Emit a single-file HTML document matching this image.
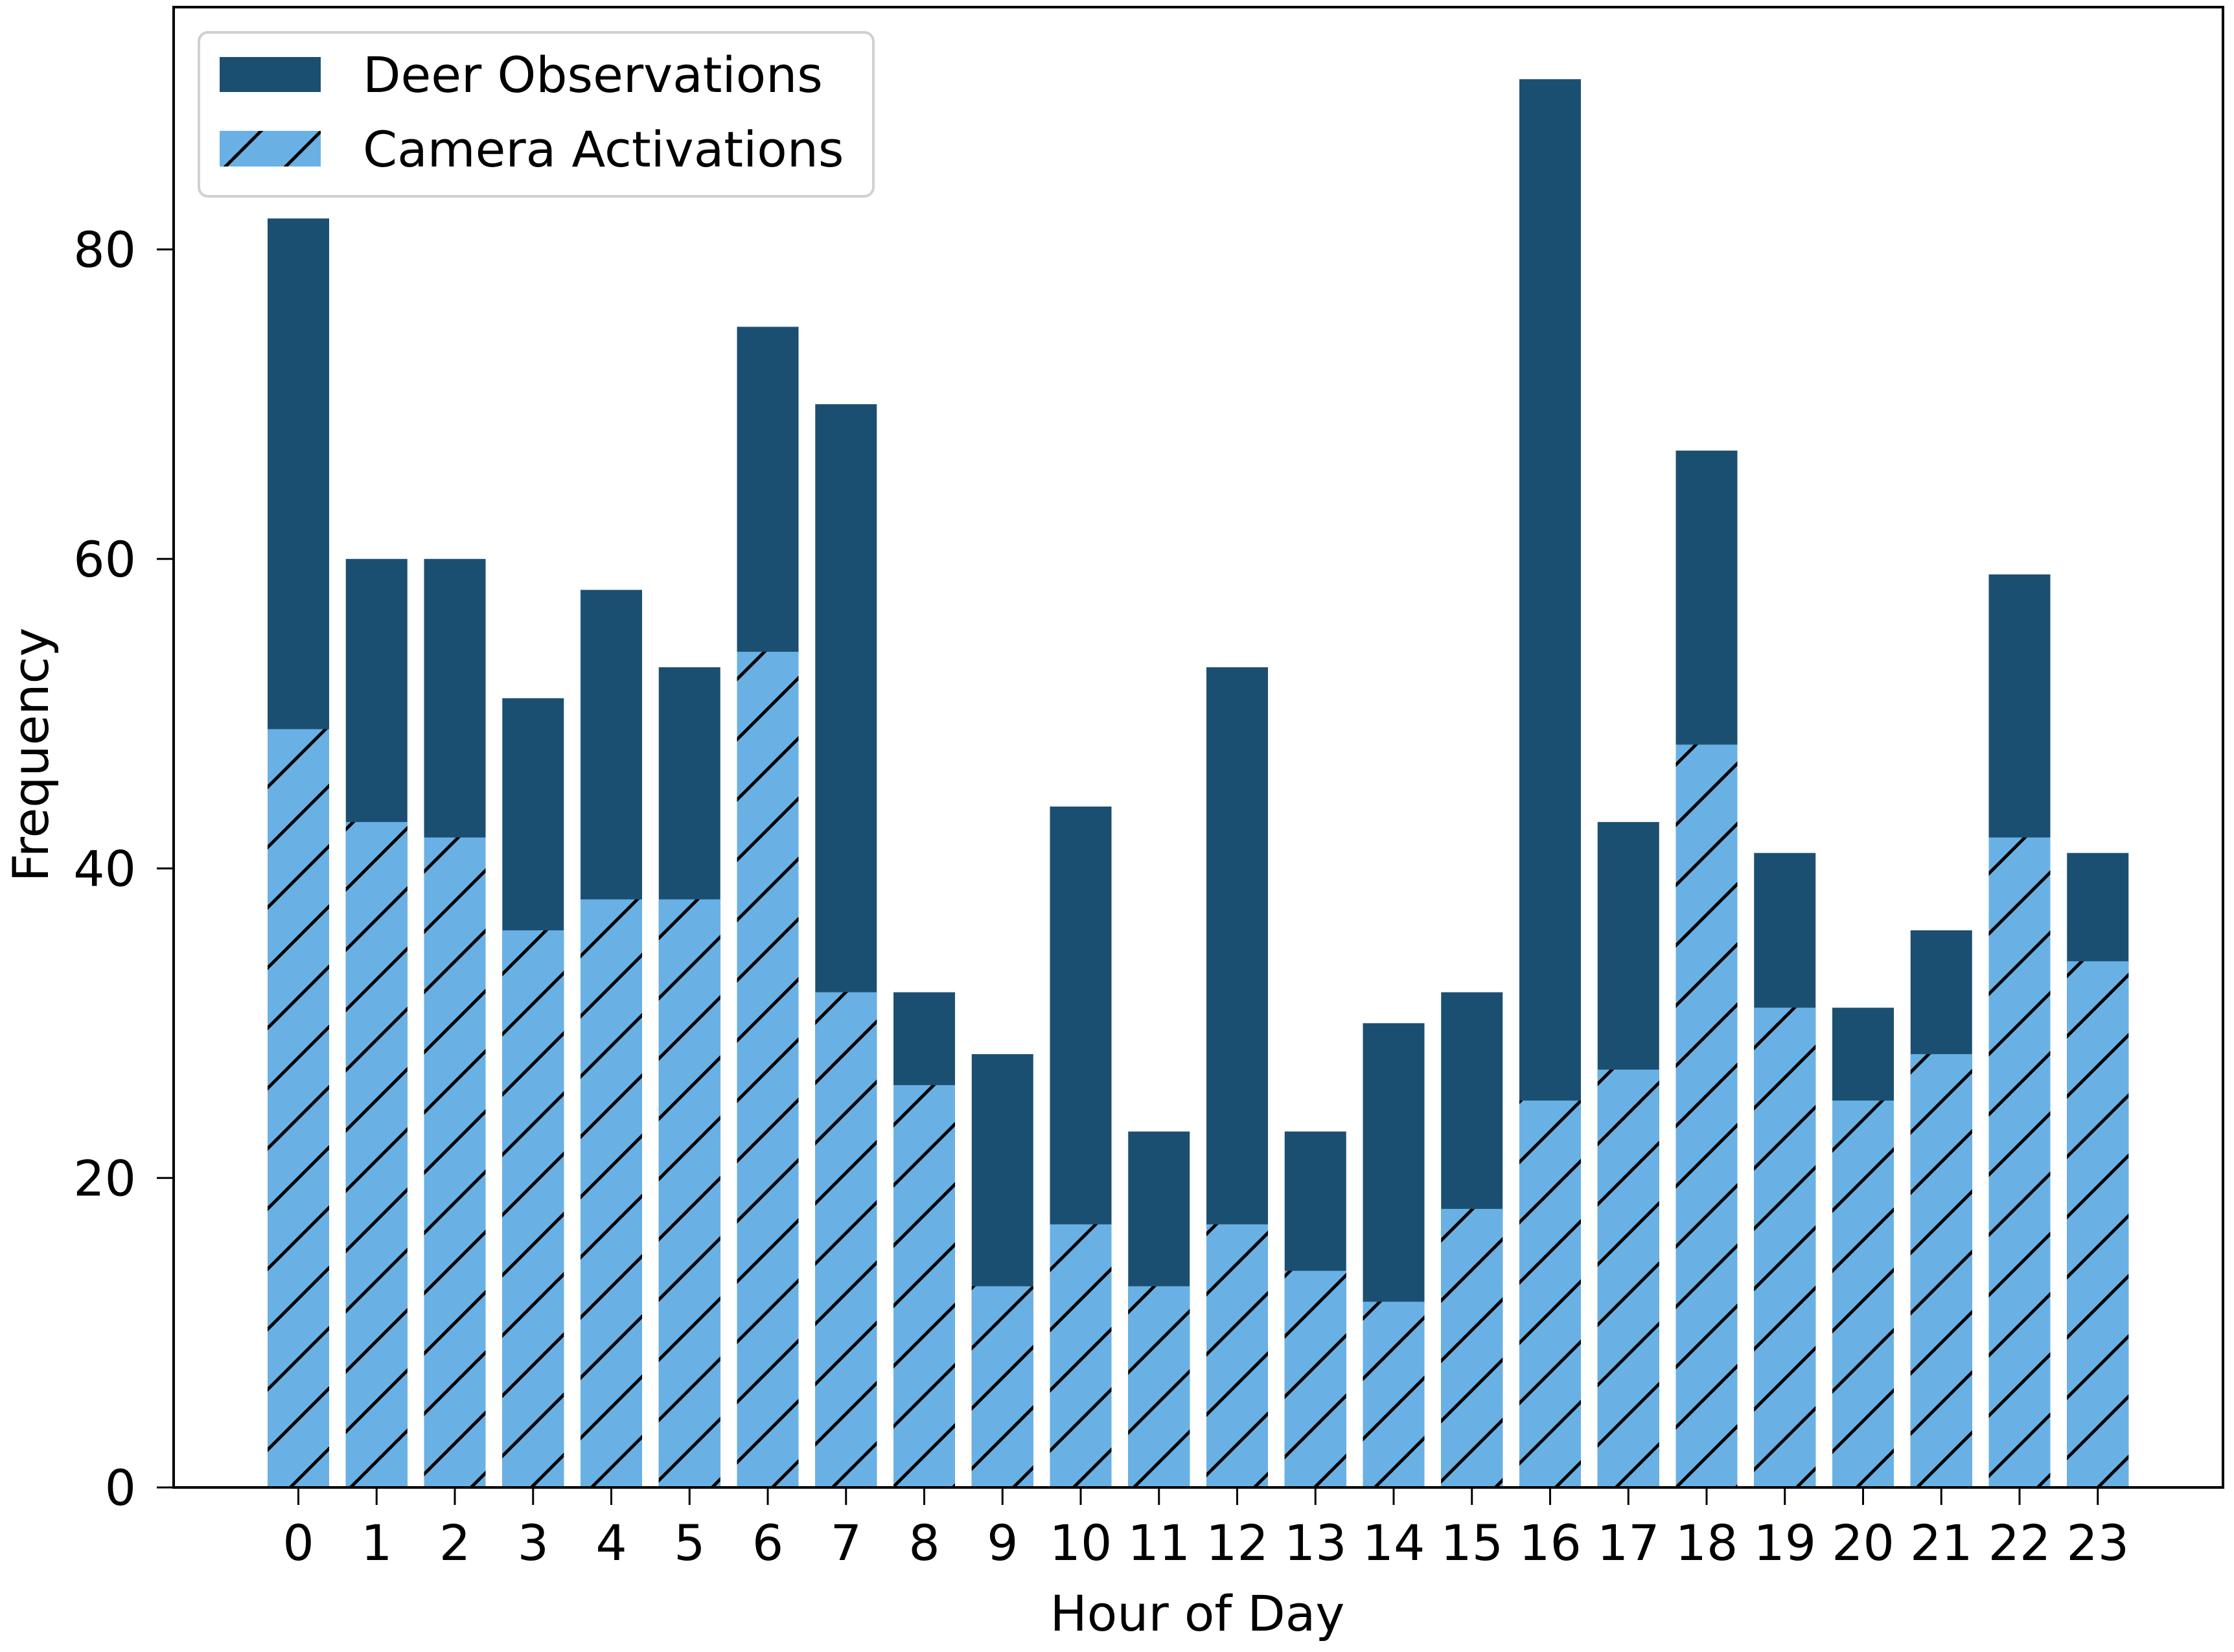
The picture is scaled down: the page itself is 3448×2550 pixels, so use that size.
<!DOCTYPE html>
<html><head><meta charset="utf-8"><style>
html,body{margin:0;padding:0;background:#fff;}
svg{display:block;font-family:"DejaVu Sans","Liberation Sans",sans-serif;}
</style></head>
<body>
<svg id="chart" width="3448" height="2550" viewBox="0 0 3448 2550" xmlns="http://www.w3.org/2000/svg">
<defs>
<pattern id="hatch" patternUnits="userSpaceOnUse" width="93" height="93" x="47" y="0">
<rect width="93" height="93" fill="#69b1e5"/>
<line x1="-10" y1="10" x2="10" y2="-10" stroke="#000" stroke-width="5"/>
<line x1="0" y1="93" x2="93" y2="0" stroke="#000" stroke-width="5"/>
<line x1="83" y1="103" x2="103" y2="83" stroke="#000" stroke-width="5"/>
</pattern>
</defs>
<rect x="268" y="11" width="3163" height="2285" fill="#fff"/>
<g id="bars"></g>
<g id="axes"></g>
<rect x="268" y="11" width="3163" height="2285" fill="none" stroke="#000" stroke-width="4"/>
<g>
<rect x="307" y="50" width="1041" height="253" rx="14" fill="#fff" fill-opacity="0.8" stroke="#d0d0d0" stroke-width="4"/>
<rect x="339" y="88" width="156" height="54" fill="#1b4f72"/>
<text x="560" y="142" font-size="76" fill="#000">Deer Observations</text>
<rect x="339" y="202" width="156" height="55" fill="url(#hatch)"/>
<text x="560" y="257" font-size="76" fill="#000">Camera Activations</text>
</g>
<text x="1848" y="2517" font-size="76" text-anchor="middle">Hour of Day</text>
<text transform="translate(74,1165) rotate(-90)" font-size="76" text-anchor="middle">Frequency</text>
</svg>
<script>
const hours = [0,1,2,3,4,5,6,7,8,9,10,11,12,13,14,15,16,17,18,19,20,21,22,23];
const deerObservations = [82,60,60,51,58,53,75,70,32,28,44,23,53,23,30,32,91,43,67,41,31,36,59,41];
const cameraActivations = [49,43,42,36,38,38,54,32,26,13,17,13,17,14,12,18,25,27,48,31,25,28,42,34];
const yTicks = [0,20,40,60,80];

const NS = "http://www.w3.org/2000/svg";
const x0 = 460.5, dx = 120.75, bw = 95;
function xScale(i){ return x0 + i*dx; }
function yScale(v){ return 2296 - v*(2296-385)/80; }
const bars = document.getElementById('bars');
const axes = document.getElementById('axes');
function mk(tag, attrs, parent){
  const e = document.createElementNS(NS, tag);
  for (const k in attrs) e.setAttribute(k, attrs[k]);
  parent.appendChild(e); return e;
}
hours.forEach((h,i)=>{
  const cx = xScale(i);
  const d = mk('rect', {x: cx-bw/2, y: yScale(deerObservations[i]), width: bw, height: yScale(0)-yScale(deerObservations[i]), fill:'#1b4f72'}, bars);
  
  
  const c = mk('rect', {x: cx-bw/2, y: yScale(cameraActivations[i]), width: bw, height: yScale(0)-yScale(cameraActivations[i]), fill:'url(#hatch)'}, bars);
  
  
  const t = mk('line', {x1: cx, x2: cx, y1: 2296, y2: 2323, stroke:'#000', 'stroke-width':3}, axes);
  
  
  const l = mk('text', {x: cx, y: 2408, 'font-size':76, 'text-anchor':'middle'}, axes);
  l.textContent = String(h);
  
  
});
yTicks.forEach(v=>{
  const y = yScale(v);
  const t = mk('line', {x1: 242, x2: 268, y1: y, y2: y, stroke:'#000', 'stroke-width':3}, axes);
  
  
  const l = mk('text', {x: 210, y: y+27, 'font-size':76, 'text-anchor':'end'}, axes);
  l.textContent = String(v);
  
  
});
</script>
</body></html>
